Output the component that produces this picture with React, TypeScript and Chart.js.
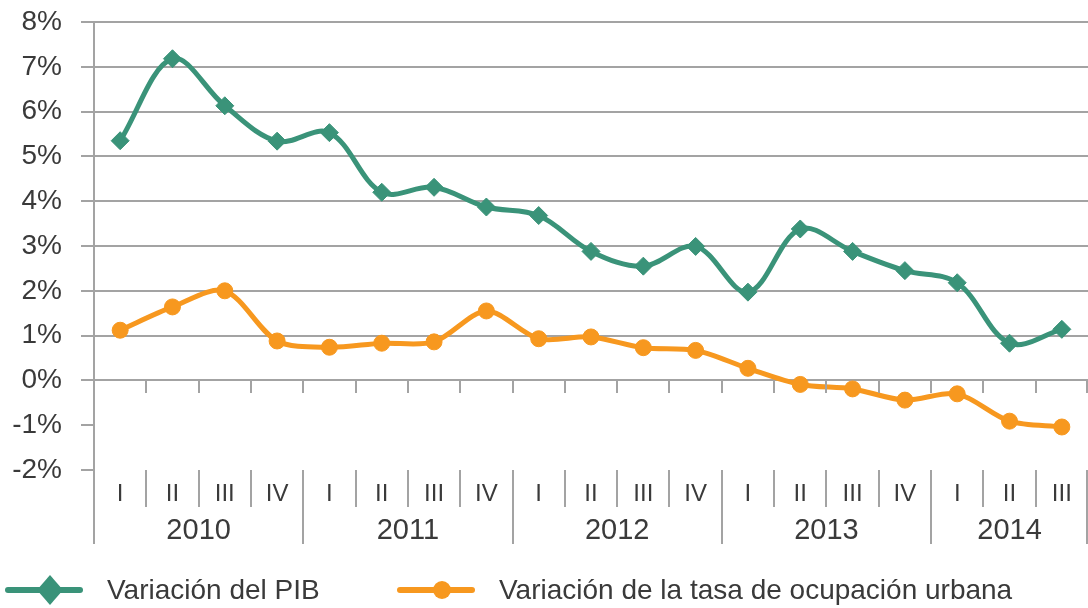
import React, { useEffect, useRef } from "react";
import { Chart, registerables } from "chart.js";

Chart.register(...registerables);

const quarters = ["I", "II", "III", "IV", "I", "II", "III", "IV", "I", "II", "III", "IV", "I", "II", "III", "IV", "I", "II", "III"];
const years = ["2010", "2011", "2012", "2013", "2014"];
const quartersPerYear = [4, 4, 4, 4, 3];
const pibValues = [5.35, 7.18, 6.13, 5.34, 5.53, 4.2, 4.31, 3.87, 3.68, 2.88, 2.55, 2.99, 1.97, 3.38, 2.88, 2.45, 2.18, 0.83, 1.14];
const ocupacionValues = [1.12, 1.64, 2.0, 0.88, 0.74, 0.83, 0.86, 1.55, 0.93, 0.97, 0.73, 0.67, 0.27, -0.09, -0.19, -0.44, -0.3, -0.91, -1.04];
const seriesNames = ["Variación del PIB", "Variación de la tasa de ocupación urbana"];

const GREEN = "#3a9379";
const ORANGE = "#f7981f";
const GRID = "#a3a3a3";
const TEXT = "#3a3a3a";
const FONT = "'Liberation Sans', Arial, sans-serif";
const NARROW = "'Liberation Sans Narrow', 'Arial Narrow', 'Liberation Sans', sans-serif";

const customPlugin = {
  id: "customAxes",
  afterDraw(chart: any) {
    const ctx = chart.ctx;
    const xs = chart.scales.x;
    const ys = chart.scales.y;
    const { left, bottom, right } = chart.chartArea;
    const w = xs.getPixelForValue(1) - xs.getPixelForValue(0);
    const y0 = Math.round(ys.getPixelForValue(0));
    ctx.save();
    ctx.strokeStyle = GRID;
    ctx.lineWidth = 2;
    const n = quarters.length;
    const yearEnds: number[] = [];
    let acc = 0;
    quartersPerYear.forEach((q) => { acc += q; yearEnds.push(acc); });
    // y axis extension
    ctx.beginPath();
    ctx.moveTo(Math.round(left), bottom);
    ctx.lineTo(Math.round(left), 544);
    ctx.stroke();
    for (let k = 1; k <= n; k++) {
      const x = Math.min(Math.round(xs.getPixelForValue(k - 1) + w / 2), Math.round(right) - 1);
      ctx.beginPath();
      ctx.moveTo(x, y0);
      ctx.lineTo(x, y0 + 13);
      ctx.stroke();
      const isYear = yearEnds.includes(k);
      ctx.beginPath();
      ctx.moveTo(x, bottom);
      ctx.lineTo(x, isYear ? 544 : 507);
      ctx.stroke();
    }
    // year labels
    ctx.fillStyle = TEXT;
    ctx.font = `29px ${FONT}`;
    ctx.textAlign = "center";
    ctx.textBaseline = "middle";
    let start = 0;
    years.forEach((yr, i) => {
      const a = xs.getPixelForValue(start);
      const b = xs.getPixelForValue(start + quartersPerYear[i] - 1);
      ctx.fillText(yr, (a + b) / 2, 531);
      start += quartersPerYear[i];
    });
    // legend
    const ly = 590;
    const drawEntry = (x0: number, color: string, style: string, label: string) => {
      ctx.strokeStyle = color;
      ctx.lineWidth = 6;
      ctx.lineCap = "round";
      ctx.beginPath();
      ctx.moveTo(x0, ly);
      ctx.lineTo(x0 + 72, ly);
      ctx.stroke();
      ctx.fillStyle = color;
      const cx = x0 + 42;
      ctx.beginPath();
      if (style === "diamond") {
        ctx.moveTo(cx - 13, ly);
        ctx.lineTo(cx, ly - 15);
        ctx.lineTo(cx + 13, ly);
        ctx.lineTo(cx, ly + 15);
        ctx.closePath();
      } else {
        ctx.arc(cx, ly, 9, 0, Math.PI * 2);
      }
      ctx.fill();
      ctx.fillStyle = TEXT;
      ctx.font = `28px ${FONT}`;
      ctx.textAlign = "left";
      ctx.textBaseline = "middle";
      ctx.fillText(label, x0 + 99, ly + 1);
    };
    drawEntry(8, GREEN, "diamond", seriesNames[0]);
    drawEntry(400, ORANGE, "circle", seriesNames[1]);
    ctx.restore();
  },
};

export default function App() {
  const ref = useRef<HTMLCanvasElement>(null);
  useEffect(() => {
    document.body.style.margin = "0";
    if (!ref.current) return;
    const chart = new Chart(ref.current, {
      type: "line",
      data: {
        labels: quarters,
        datasets: [
          {
            label: seriesNames[0],
            data: pibValues,
            borderColor: GREEN,
            backgroundColor: GREEN,
            borderWidth: 5,
            tension: 0.35,
            pointStyle: "rectRot",
            pointRadius: 9,
            pointBorderWidth: 1,
            clip: false as any,
          },
          {
            label: seriesNames[1],
            data: ocupacionValues,
            borderColor: ORANGE,
            backgroundColor: ORANGE,
            borderWidth: 5,
            tension: 0.3,
            pointStyle: "circle",
            pointRadius: 8,
            pointBorderWidth: 1,
            clip: false as any,
          },
        ],
      },
      options: {
        animation: false,
        responsive: false,
        maintainAspectRatio: false,
        layout: { autoPadding: false, padding: { top: 22, right: 0, left: 0, bottom: 0 } },
        plugins: { legend: { display: false }, tooltip: { enabled: false } },
        scales: {
          x: {
            type: "category",
            offset: true,
            grid: { display: false },
            border: { display: false },
            ticks: {
              autoSkip: false,
              maxRotation: 0,
              color: TEXT,
              padding: 2,
              font: { family: NARROW, size: 24 },
            },
            afterFit: (s: any) => {
              s.height = 138;
              s.paddingLeft = 0;
              s.paddingRight = 0;
            },
          },
          y: {
            min: -2,
            max: 8,
            ticks: {
              stepSize: 1,
              color: TEXT,
              padding: 19,
              font: { family: FONT, size: 28 },
              callback: (v: any) => `${v}%`,
            },
            grid: {
              color: (c: any) => (c.tick && c.tick.value < 0 ? "rgba(0,0,0,0)" : GRID),
              lineWidth: 2,
              tickLength: 13,
              tickColor: GRID,
              tickWidth: 2,
            },
            border: { display: true, color: GRID, width: 2 },
            afterFit: (s: any) => {
              s.width = 94;
              s.paddingTop = 0;
              s.paddingBottom = 0;
            },
          },
        },
      },
      plugins: [customPlugin],
    });
    return () => chart.destroy();
  }, []);
  return (
    <div style={{ width: 1088, height: 608 }}>
      <canvas ref={ref} width={1088} height={608} style={{ display: "block", width: 1088, height: 608 }} />
    </div>
  );
}
